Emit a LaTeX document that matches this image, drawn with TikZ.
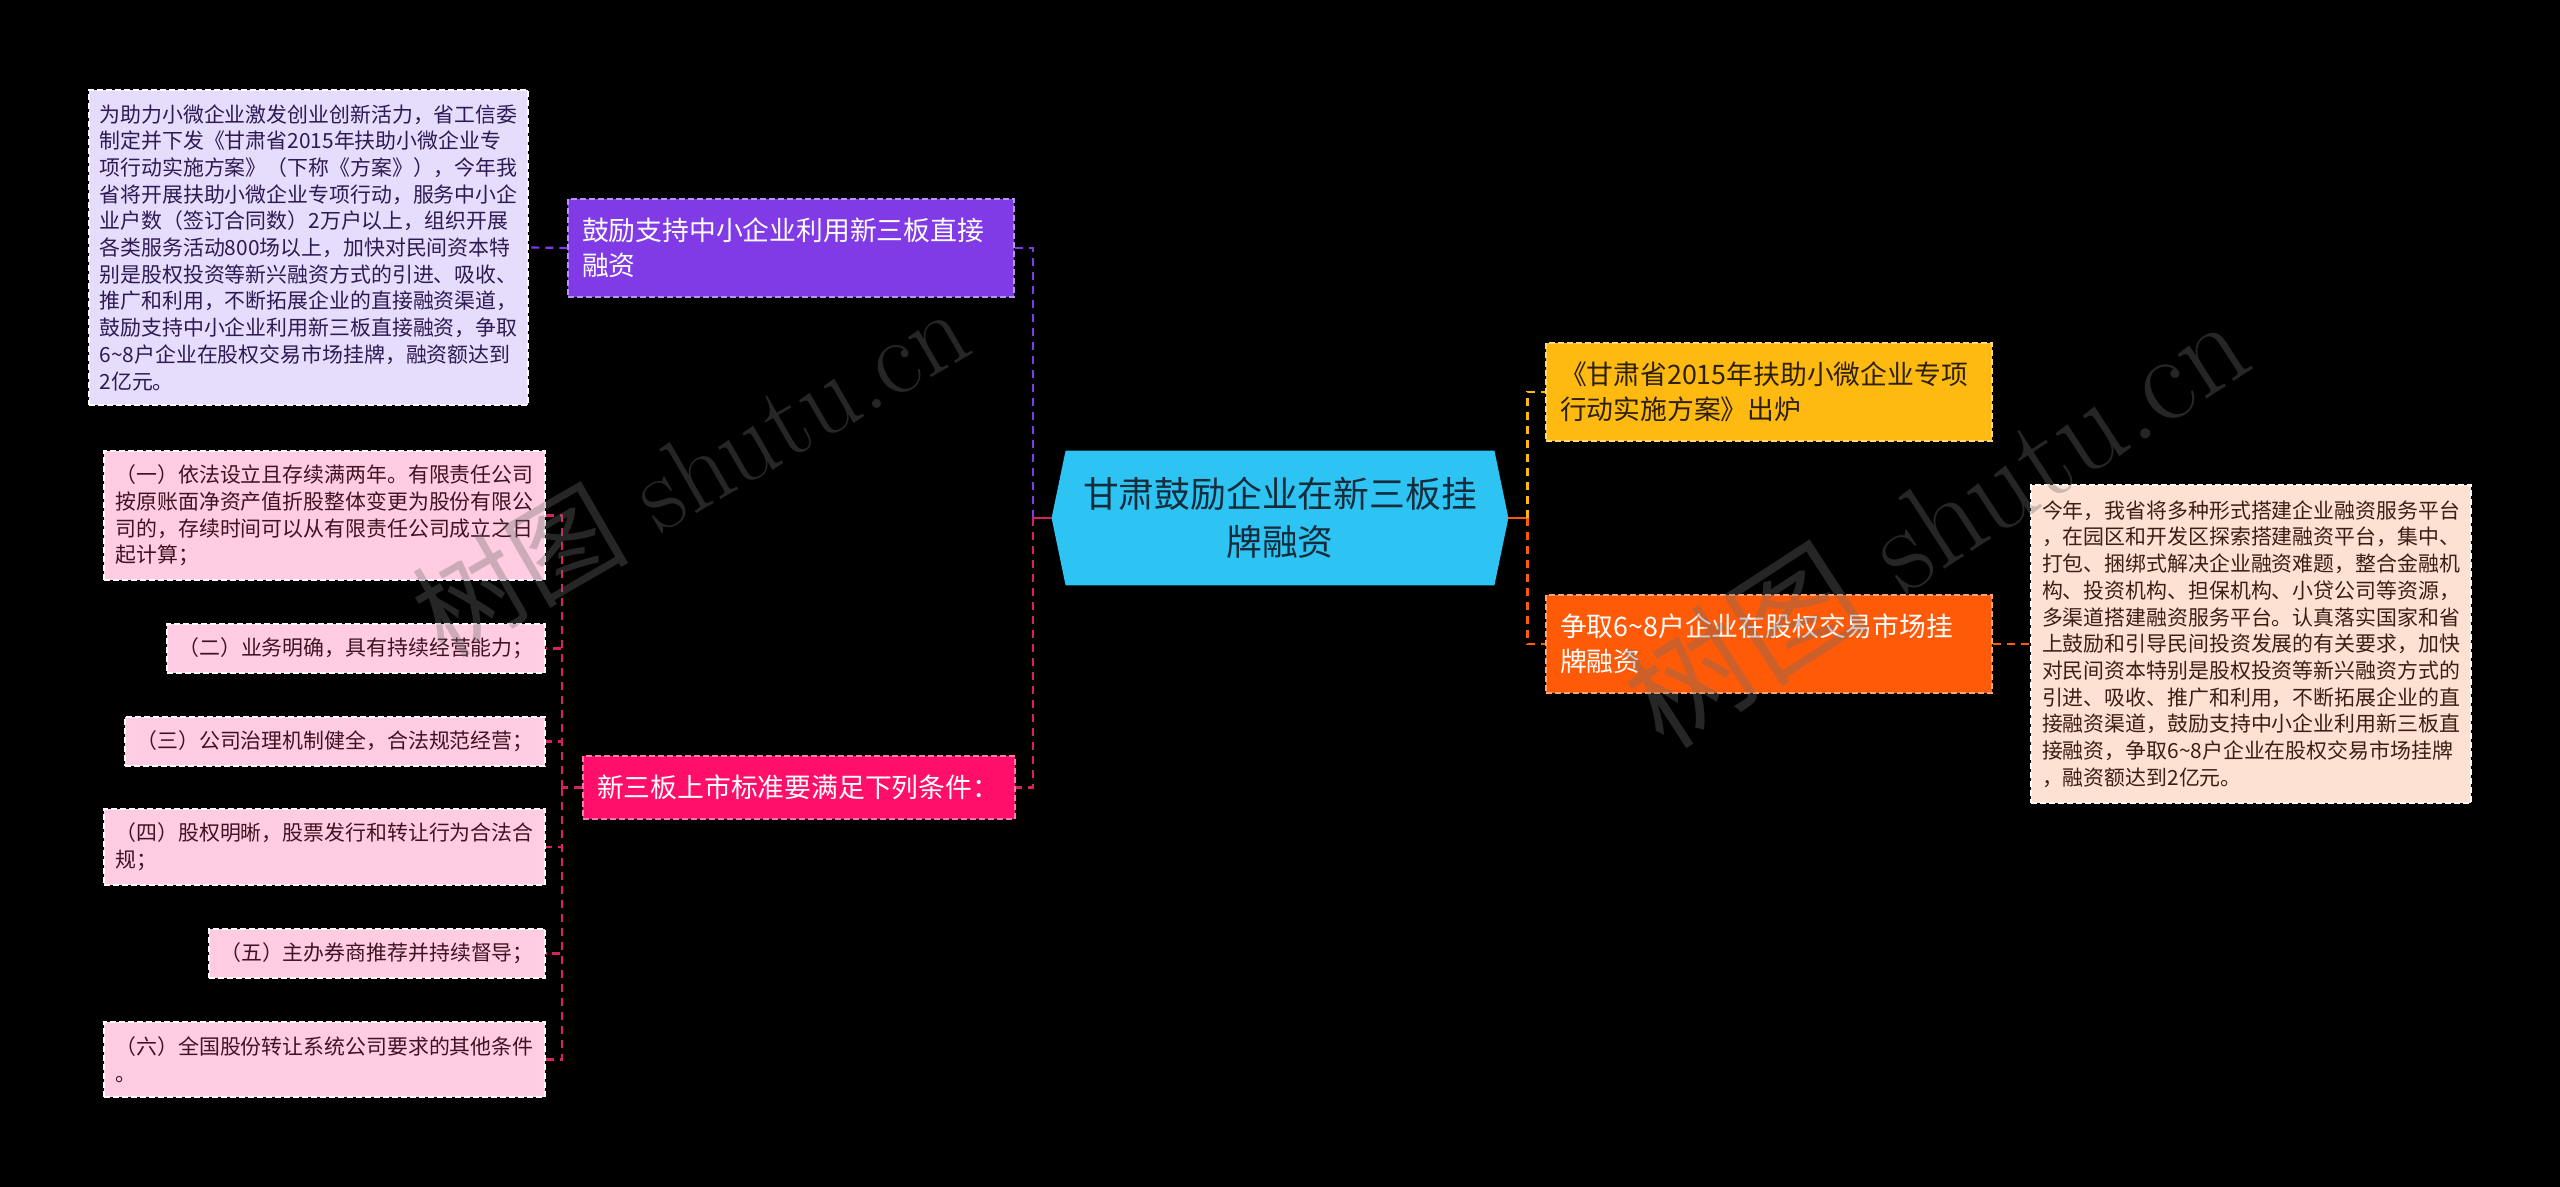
\documentclass[tikz,border=0pt]{standalone}
\usepackage{fontspec}
\usepackage{xcolor}
\usepackage{tikz}
\usetikzlibrary{positioning,calc,backgrounds}
\newfontfamily\cjk{Noto Sans CJK SC}
\definecolor{mRoot}{RGB}{45,195,242}
\definecolor{mRootTxt}{RGB}{20,44,60}
\definecolor{mPurple}{RGB}{128,58,230}
\definecolor{mLilac}{RGB}{230,220,251}
\definecolor{mLilacTxt}{RGB}{46,26,84}
\definecolor{mYellow}{RGB}{255,186,18}
\definecolor{mYellowTxt}{RGB}{44,32,8}
\definecolor{mOrange}{RGB}{255,90,8}
\definecolor{mPeach}{RGB}{253,226,212}
\definecolor{mPeachTxt}{RGB}{62,30,18}
\definecolor{mPink}{RGB}{255,14,106}
\definecolor{mRose}{RGB}{255,204,226}
\definecolor{mRoseTxt}{RGB}{62,20,36}
\definecolor{mLine}{RGB}{214,34,98}
\definecolor{mMark}{RGB}{110,110,110}
\tikzset{
  root/.style={rectangle, align=center, minimum width=214pt, minimum height=67pt,
               inner sep=0pt, text=mRootTxt, font=\cjk\fontsize{17.9}{24}\selectfont},
  topic/.style={rectangle, align=left, inner xsep=7pt, inner ysep=2pt,
                text width=209pt, minimum height=49pt,
                dash pattern=on 3pt off 1.5pt, line width=0.7pt,
                font=\cjk\fontsize{13.4}{17.5}\selectfont},
  tpP/.style={topic, fill=mPurple, draw=mPurple!55!white, text=white},
  tpY/.style={topic, fill=mYellow, draw=mYellow!55!white, text=mYellowTxt},
  tpO/.style={topic, fill=mOrange, draw=mOrange!55!white, text=white},
  tpK/.style={topic, fill=mPink, draw=mPink!55!white, text=white,
              text width=202pt, minimum height=31.5pt},
  leafbox/.style={rectangle, align=left, inner sep=2pt,
                  dash pattern=on 3pt off 1.5pt, line width=0.6pt, draw=white,
                  font=\cjk\fontsize{10.45}{13.35}\selectfont},
  leafP/.style={leafbox, fill=mLilac, text=mLilacTxt},
  leafO/.style={leafbox, fill=mPeach, text=mPeachTxt},
  leafK/.style={leafbox, fill=mRose, text=mRoseTxt},
  link/.style={dash pattern=on 4pt off 3pt, line width=1.1pt},
  stub/.style={line width=1.4pt},
  wmark/.style={text=mMark, opacity=0.35, inner sep=0pt},
}

\begin{document}
\begin{tikzpicture}[x=0.5pt,y=-0.5pt]
  \useasboundingbox (0,0) rectangle (2560,1187);

  % root -- outline is filled on the background layer below
  \node[root] (root) at (1280,518) {甘肃鼓励企业在新三板挂\\牌融资};
  \coordinate (rootL) at ([xshift=-7pt]root.west);
  \coordinate (rootR) at ([xshift=7pt]root.east);

  % topics -- left and right of the root
  \node[tpP] (t1) at (791,248) {鼓励支持中小企业利用新三板直接\\融资};
  \node[tpK] (t2) at (799,787.5) {新三板上市标准要满足下列条件：};
  \node[tpY] (t3) at (1769,392) {《甘肃省2015年扶助小微企业专项\\行动实施方案》出炉};
  \node[tpO] (t4) at (1769,644) {争取6\textasciitilde 8户企业在股权交易市场挂\\牌融资};

  % details of the two single topics
  \node[leafP, minimum width=219.5pt, minimum height=157.5pt] (d1) at (308.5,247.5)
    {为助力小微企业激发创业创新活力，省工信委\\
     制定并下发《甘肃省2015年扶助小微企业专\\
     项行动实施方案》（下称《方案》），今年我\\
     省将开展扶助小微企业专项行动，服务中小企\\
     业户数（签订合同数）2万户以上，组织开展\\
     各类服务活动800场以上，加快对民间资本特\\
     别是股权投资等新兴融资方式的引进、吸收、\\
     推广和利用，不断拓展企业的直接融资渠道，\\
     鼓励支持中小企业利用新三板直接融资，争取\\
     6\textasciitilde 8户企业在股权交易市场挂牌，融资额达到\\
     2亿元。};
  \node[leafO, minimum width=220pt, minimum height=159pt] (d2) at (2251,644)
    {今年，我省将多种形式搭建企业融资服务平台\\
     ，在园区和开发区探索搭建融资平台，集中、\\
     打包、捆绑式解决企业融资难题，整合金融机\\
     构、投资机构、担保机构、小贷公司等资源，\\
     多渠道搭建融资服务平台。认真落实国家和省\\
     上鼓励和引导民间投资发展的有关要求，加快\\
     对民间资本特别是股权投资等新兴融资方式的\\
     引进、吸收、推广和利用，不断拓展企业的直\\
     接融资渠道，鼓励支持中小企业利用新三板直\\
     接融资，争取6\textasciitilde 8户企业在股权交易市场挂牌\\
     ，融资额达到2亿元。};

  % listing conditions
  \node[leafK, minimum width=220.5pt, minimum height=64.5pt] (k1) at (324.5,515.5)
    {（一）依法设立且存续满两年。有限责任公司\\
     按原账面净资产值折股整体变更为股份有限公\\
     司的，存续时间可以从有限责任公司成立之日\\
     起计算；};
  \node[leafK, minimum width=189pt, minimum height=24.5pt] (k2) at (356,648.5)
    {（二）业务明确，具有持续经营能力；};
  \node[leafK, minimum width=210pt, minimum height=24.5pt] (k3) at (335,741.5)
    {（三）公司治理机制健全，合法规范经营；};
  \node[leafK, minimum width=220.5pt, minimum height=38pt] (k4) at (324.5,847)
    {（四）股权明晰，股票发行和转让行为合法合\\规；};
  \node[leafK, minimum width=168pt, minimum height=24.5pt] (k5) at (377,953.5)
    {（五）主办券商推荐并持续督导；};
  \node[leafK, minimum width=220.5pt, minimum height=37.5pt] (k6) at (324.5,1059.5)
    {（六）全国股份转让系统公司要求的其他条件\\。};

  % background and root outline
  \begin{scope}[on background layer]
    \fill[black] (0,0) rectangle (2560,1187);
    \fill[mRoot] (root.north west) -- (root.north east) -- (rootR)
      -- (root.south east) -- (root.south west) -- (rootL) -- cycle;
  \end{scope}

  % connectors -- root to topics
  \coordinate (spL) at ([xshift=-9.5pt]rootL);
  \coordinate (spR) at ([xshift=9.5pt]rootR);
  \draw[stub, mLine] (rootL) -- (spL);
  \draw[stub, mOrange] (rootR) -- (spR);
  \draw[link, mPurple] (spL) |- (t1.east);
  \draw[link, mLine] (spL) |- (t2.east);
  \draw[link, mYellow] (spR) |- (t3.west);
  \draw[link, mOrange] (spR) |- (t4.west);

  % connectors -- topics to details
  \draw[link, mPurple] (t1.west) -- (d1.east);
  \draw[link, mOrange] (t4.east) -- (d2.west);
  \coordinate (spK) at ([xshift=-10pt]t2.west);
  \draw[link, mLine] (t2.west) -- (spK);
  \draw[link, mLine] (spK) |- (k1.east);
  \draw[link, mLine] (spK) |- (k2.east);
  \draw[link, mLine] (spK) |- (k3.east);
  \draw[link, mLine] (spK) |- (k4.east);
  \draw[link, mLine] (spK) |- (k5.east);
  \draw[link, mLine] (spK) |- (k6.east);

  % watermarks
  \node[wmark, rotate=30, font=\fontsize{54}{54}\selectfont] (wm1) at (690,470)
    {{\cjk 树图} shutu.cn};
  \node[wmark, rotate=33, font=\fontsize{62}{62}\selectfont] (wm2) at (1935,520)
    {{\cjk 树图} shutu.cn};
\end{tikzpicture}
\end{document}
